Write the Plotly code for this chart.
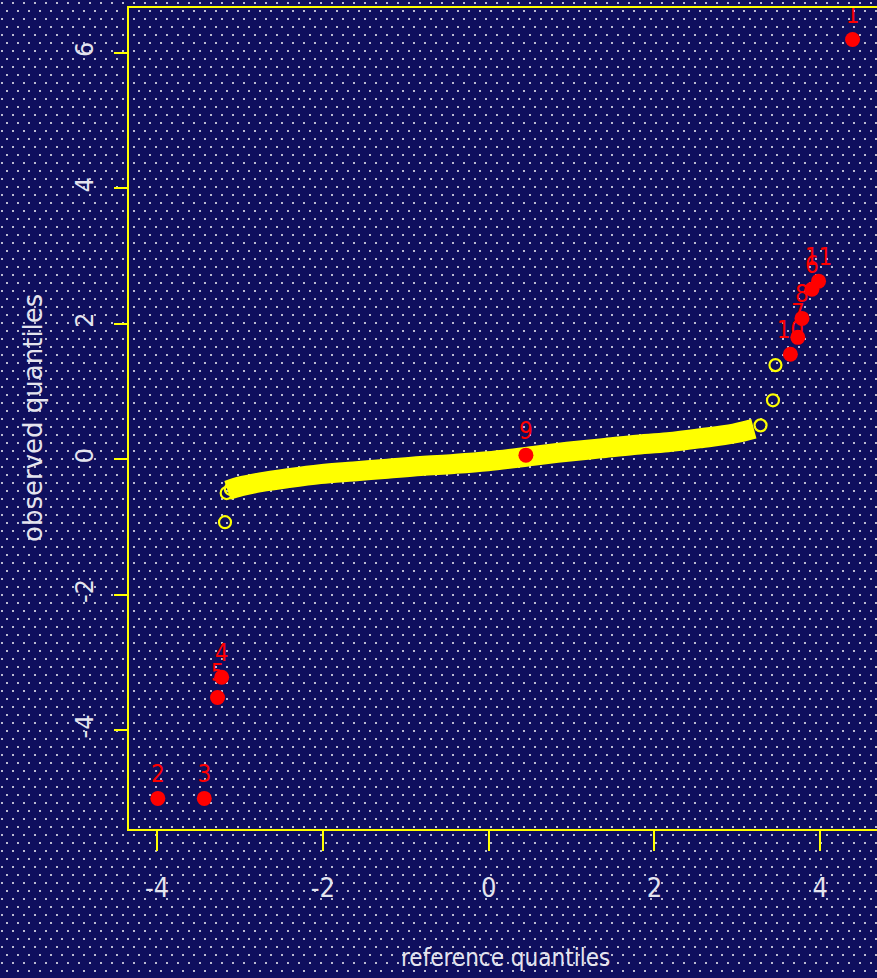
import base64
import plotly.graph_objects as go

# Bulk of the sample: observed vs. reference (normal) quantiles along the band
bulk_ref = [-3.15, -2.99, -2.75, -2.42, -2.03, -1.63, -1.22, -0.82, -0.42, -0.01,
            0.54, 0.95, 1.35, 1.75, 2.16, 2.56, 2.96, 3.20]
bulk_obs = [-0.46, -0.40, -0.34, -0.28, -0.22, -0.18, -0.14, -0.10, -0.07, -0.03,
            0.05, 0.11, 0.16, 0.21, 0.25, 0.31, 0.38, 0.45]

# Individually visible points at the ends of the band
tail_ref = [-3.18, -3.16, -3.11, 3.28, 3.43, 3.46]
tail_obs = [-0.93, -0.50, -0.44, 0.50, 0.87, 1.39]

# Flagged observations with their index labels
flag_ref = [4.39, -3.99, -3.43, -3.22, -3.27, 3.90, 3.73, 3.78, 0.45, 3.64, 3.98]
flag_obs = [6.20, -5.01, -5.01, -3.22, -3.52, 2.51, 1.80, 2.08, 0.06, 1.55, 2.63]
flag_lab = ["1", "2", "3", "4", "5", "6", "7", "8", "9", "10", "11"]

x_ticks = [-4, -2, 0, 2, 4]
y_ticks = [-4, -2, 0, 2, 4, 6]

W, H = 877, 978
ML, MT, MB, MR = 129, 8, 149, 0
PW, PH = W - ML - MR, H - MT - MB

NAVY = "#0f0f5e"
YELLOW = "#ffff00"
RED = "#ff0000"
TXT = "#e4e4ee"
NARROW = "DejaVu Sans Condensed, Liberation Sans Narrow, sans-serif"

# Stippled backdrop as an SVG pattern
svg = f"""<svg xmlns="http://www.w3.org/2000/svg" width="{W}" height="{H}">
<defs><pattern id="d" width="11" height="16" patternUnits="userSpaceOnUse">
<rect x="1" y="2" width="2" height="2" fill="#bcbcd2"/>
<rect x="6" y="10" width="2" height="2" fill="#bcbcd2"/>
</pattern></defs>
<rect width="{W}" height="{H}" fill="{NAVY}"/>
<rect width="{W}" height="{H}" fill="url(#d)"/>
</svg>"""
bg_src = "data:image/svg+xml;base64," + base64.b64encode(svg.encode()).decode()

fig = go.Figure()

fig.add_trace(go.Scatter(
    x=bulk_ref, y=bulk_obs, mode="lines",
    line=dict(color=YELLOW, width=20, shape="spline"),
    hoverinfo="skip", showlegend=False))

fig.add_trace(go.Scatter(
    x=tail_ref, y=tail_obs, mode="markers",
    marker=dict(symbol="circle-open", size=12, color=YELLOW, line=dict(width=2.2)),
    showlegend=False))

fig.add_trace(go.Scatter(
    x=flag_ref, y=flag_obs, mode="markers+text",
    text=flag_lab, textposition="top center",
    textfont=dict(family=NARROW, size=24, color=RED),
    marker=dict(symbol="circle", size=15, color=RED),
    showlegend=False))

fig.update_layout(
    width=W, height=H,
    margin=dict(l=ML, r=MR, t=MT, b=MB),
    paper_bgcolor=NAVY,
    plot_bgcolor="rgba(0,0,0,0)",
    images=[dict(source=bg_src, xref="paper", yref="paper",
                 x=-ML / PW, y=1 + MT / PH, sizex=W / PW, sizey=H / PH,
                 xanchor="left", yanchor="top", sizing="stretch", layer="below")],
    xaxis=dict(
        range=[-4.338, 4.685], tickvals=x_ticks, ticktext=[str(v) for v in x_ticks],
        showgrid=False, zeroline=False,
        showline=True, linecolor=YELLOW, linewidth=2, mirror=True,
        ticks="outside", ticklen=20, tickwidth=2, tickcolor=YELLOW,
        tickfont=dict(family=NARROW, size=27, color=TXT),
        ticklabelstandoff=14),
    yaxis=dict(
        range=[-5.462, 6.665], tickvals=y_ticks, ticktext=[str(v) for v in y_ticks],
        showgrid=False, zeroline=False,
        showline=True, linecolor=YELLOW, linewidth=2,
        ticks="outside", ticklen=13, tickwidth=2, tickcolor=YELLOW,
        tickangle=-90,
        tickfont=dict(family="DejaVu Sans", size=24, color=TXT),
        ticklabelstandoff=11),
    annotations=[
        dict(text="reference quantiles", xref="paper", yref="paper",
             x=(505 - ML) / PW, y=(H - MB - 958) / PH,
             xanchor="center", yanchor="middle", showarrow=False,
             font=dict(family=NARROW, size=24, color=TXT)),
        dict(text="observed quantiles", xref="paper", yref="paper",
             x=(33 - ML) / PW, y=(H - MB - 418) / PH, textangle=-90,
             xanchor="center", yanchor="middle", showarrow=False,
             font=dict(family="DejaVu Sans", size=26, color=TXT)),
    ],
)

fig.write_html("out.html")
